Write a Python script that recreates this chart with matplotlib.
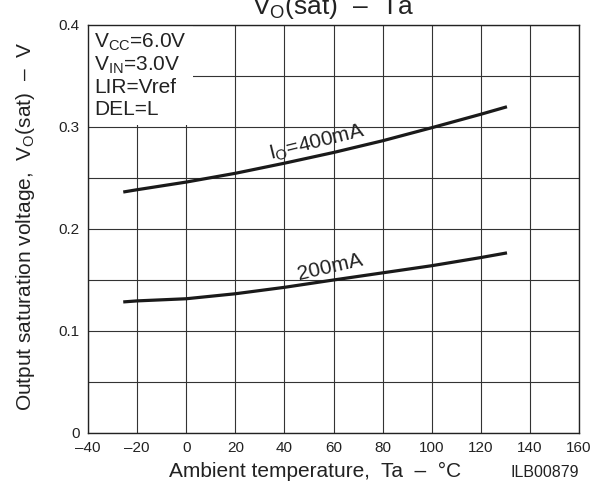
import matplotlib.pyplot as plt
from matplotlib.patches import Rectangle

plt.rcParams['font.family'] = ['Liberation Sans', 'DejaVu Sans']
plt.rcParams['mathtext.fontset'] = 'custom'
plt.rcParams['mathtext.rm'] = 'Liberation Sans'
plt.rcParams['mathtext.it'] = 'Liberation Sans'

# ---------- Data ----------
ta = [-25, -20, 0, 20, 40, 60, 80, 100, 120, 130]
vo_400ma = [0.2365, 0.2385, 0.246, 0.2546, 0.2645, 0.275, 0.2865, 0.2993, 0.3125, 0.3194]
vo_200ma = [0.1286, 0.1295, 0.1316, 0.1365, 0.1428, 0.150, 0.157, 0.164, 0.172, 0.1763]

x_ticks = [-40, -20, 0, 20, 40, 60, 80, 100, 120, 140, 160]
x_ticklabels = ['\u201340', '\u201320', '0', '20', '40', '60', '80', '100', '120', '140', '160']
y_ticks = [0, 0.1, 0.2, 0.3, 0.4]
y_ticklabels = ['0', '0.1', '0.2', '0.3', '0.4']

conditions = [r'$\mathrm{V_{CC}}$=6.0V', r'$\mathrm{V_{IN}}$=3.0V', 'LIR=Vref', 'DEL=L']

DASH = '\u2013'
INK = '#222222'

# ---------- Plot ----------
fig = plt.figure(figsize=(5.97, 4.95), dpi=100)
ax = fig.add_axes([0.1474, 0.1253, 0.8226, 0.8242])

ax.set_xlim(-40, 160)
ax.set_ylim(0, 0.4)
ax.set_xticks(x_ticks)
ax.set_xticklabels(x_ticklabels)
ax.set_yticks(y_ticks)
ax.set_yticklabels(y_ticklabels)
ax.set_yticks([0.05, 0.15, 0.25, 0.35], minor=True)
ax.tick_params(which='both', length=0, labelsize=11, colors=INK)
ax.tick_params(axis='x', pad=6)
ax.tick_params(axis='y', pad=6)
ax.set_axisbelow(True)
ax.grid(True, which='both', color='#333333', linewidth=0.8)
for sp in ax.spines.values():
    sp.set_color(INK)
    sp.set_linewidth(1.0)

ax.plot(ta, vo_400ma, color='#1a1a1a', linewidth=2.3, zorder=3)
ax.plot(ta, vo_200ma, color='#1a1a1a', linewidth=2.3, zorder=3)

ax.text(53.4, 0.285, r'$\mathrm{I_O}$=400mA', fontsize=15, rotation=14,
        ha='center', va='center', color=INK, zorder=4)
ax.text(58.7, 0.163, '200mA', fontsize=15, rotation=13,
        ha='center', va='center', color=INK, zorder=4)

# condition box blanks out the grid in the upper-left corner
ax.add_patch(Rectangle((0, 0.755), 0.214, 0.245, transform=ax.transAxes,
                       facecolor='white', edgecolor='none', zorder=1.5))
for i, line in enumerate(conditions):
    ax.text(0.012, 0.944 - i * 0.0548, line, transform=ax.transAxes, fontsize=15,
            ha='left', va='baseline', color=INK, zorder=4)

# title sits partly above the top of the figure, as in the scan
fig.text(0.5586, 0.972, r'$\mathrm{V_O}$(sat)  ' + DASH + '  Ta', fontsize=19,
         ha='center', va='baseline', color=INK)

ax.set_xlabel('Ambient temperature,  Ta  ' + DASH + '  \u00b0C', fontsize=15, color=INK)
ax.xaxis.set_label_coords(0.462, -0.071)
ax.set_ylabel(r'Output saturation voltage,  $\mathrm{V_O}$(sat)  ' + DASH + '  V',
              fontsize=15, color=INK)
ax.yaxis.set_label_coords(-0.104, 0.505)

fig.text(0.970, 0.046, 'ILB00879', fontsize=11.5, ha='right', va='center', color=INK)

fig.savefig('out.png', dpi=100)
